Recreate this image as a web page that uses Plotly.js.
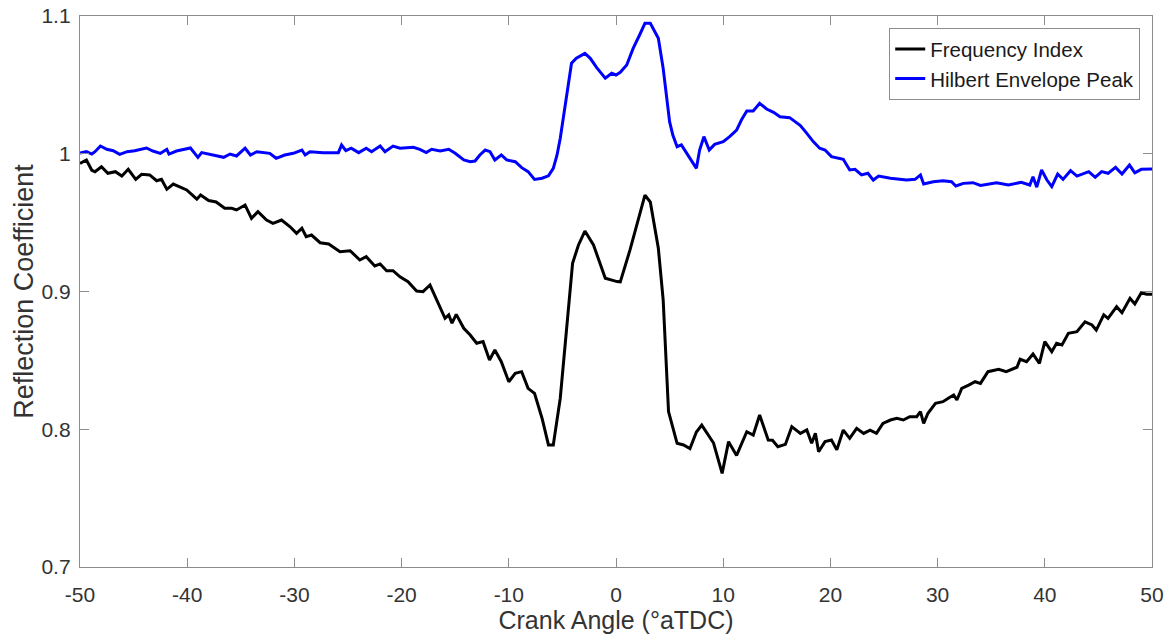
<!DOCTYPE html>
<html>
<head>
<meta charset="utf-8">
<script src="https://cdn.plot.ly/plotly-3.0.1.min.js"></script>
<style>html,body{margin:0;padding:0;background:#fff;}#chart{width:1173px;height:637px;}</style>
</head>
<body>
<div id="chart"></div>
<script>
// Frequency Index series (crank angle, reflection coefficient)
var freqAngle = [-50,-49.4,-48.9,-48.6,-48,-47.4,-46.7,-46.1,-45.5,-44.8,-44.25,-43.5,-42.85,-42.4,-41.9,-41.3,-40.7,-40.05,-39.1,-38.75,-38,-37.3,-36.5,-35.85,-35.4,-34.6,-34,-33.4,-32.6,-32,-31.2,-30.4,-29.8,-29.3,-28.9,-28.4,-27.6,-26.8,-25.75,-24.8,-23.9,-23.3,-22.5,-22,-21.4,-20.8,-20.15,-19.4,-18.6,-18,-17.35,-16.7,-16.4,-15.95,-15.6,-15.3,-14.9,-14.2,-13.6,-13,-12.4,-11.8,-11.3,-10.7,-10,-9.4,-8.8,-8.2,-7.6,-6.9,-6.3,-5.85,-5.2,-4.6,-4.05,-3.5,-2.9,-2.1,-1,0.1,0.4,1.3,2.1,2.7,3.2,3.95,4.4,4.9,5.7,6.3,6.9,7.5,8,9.1,9.9,10.5,11.25,12.2,12.8,13.4,14.2,14.6,15.1,15.8,16.4,17.2,17.8,18.25,18.6,18.9,19.5,20.1,20.6,21.2,21.8,22.45,23.1,23.7,24.3,24.9,25.6,26.2,26.8,27.4,28.05,28.4,28.7,29.1,29.8,30.5,31,31.5,31.8,32.25,32.9,33.5,34,34.7,35.7,36.4,37.4,37.7,38.3,38.9,39.5,40,40.65,41.1,41.6,42.2,43,43.75,44.4,44.8,45.5,45.9,46.7,47.2,47.95,48.4,49,49.5,50];
var freqRC = [0.993,0.9955,0.988,0.987,0.9906,0.9858,0.987,0.9838,0.9887,0.9814,0.9851,0.9846,0.9804,0.9814,0.9742,0.978,0.976,0.9737,0.967,0.970,0.966,0.965,0.9604,0.9604,0.9592,0.9628,0.9531,0.958,0.9519,0.9495,0.9519,0.947,0.9422,0.9459,0.9398,0.941,0.9354,0.9345,0.9289,0.9296,0.9229,0.9253,0.9185,0.92,0.9151,0.9151,0.9107,0.9071,0.9004,0.8999,0.9047,0.8938,0.889,0.8805,0.883,0.877,0.8834,0.8733,0.8684,0.8624,0.8636,0.8503,0.8575,0.849,0.8345,0.8406,0.8418,0.8297,0.826,0.808,0.7886,0.7886,0.8225,0.8708,0.9205,0.9338,0.9439,0.9338,0.9096,0.9072,0.907,0.930,0.952,0.970,0.965,0.9314,0.894,0.8128,0.7898,0.7886,0.786,0.798,0.803,0.790,0.768,0.791,0.781,0.7982,0.7958,0.8103,0.7922,0.792,0.7873,0.789,0.8019,0.797,0.7995,0.7898,0.797,0.7837,0.791,0.7922,0.785,0.7994,0.7934,0.8007,0.797,0.7994,0.797,0.8043,0.8067,0.808,0.8067,0.8091,0.8091,0.8128,0.8043,0.8116,0.8188,0.820,0.8225,0.8249,0.8212,0.8297,0.8321,0.8345,0.8333,0.8418,0.8435,0.8418,0.845,0.8508,0.849,0.8546,0.8479,0.8636,0.8563,0.8624,0.8612,0.8697,0.8708,0.878,0.8757,0.872,0.883,0.8805,0.889,0.8846,0.895,0.891,0.8991,0.898,0.898];

// Hilbert Envelope Peak series
var hilbAngle = [-50,-49.4,-48.9,-48.6,-48.1,-47.5,-46.9,-46.3,-45.6,-44.9,-43.8,-43.2,-42.5,-41.9,-41.7,-41,-39.7,-39,-38.65,-37.6,-36.6,-36,-35.4,-34.6,-34.1,-33.5,-32.3,-31.7,-30.9,-30.1,-29.3,-29,-28.55,-27.3,-25.9,-25.6,-25.2,-24.7,-24,-23.3,-22.8,-22,-21.55,-20.8,-20.15,-18.9,-18.3,-17.7,-17.2,-16.4,-15.6,-15,-14.2,-13.6,-13.15,-12.7,-12.2,-11.75,-11.3,-10.7,-10.2,-9.4,-8.8,-8.2,-7.6,-6.9,-6.3,-5.85,-5.5,-5.2,-4.8,-4.45,-4.15,-3.7,-3.2,-2.9,-2.4,-1.8,-1,-0.4,0,0.4,1,1.6,2.2,2.7,3.2,3.95,4.4,4.7,5,5.3,5.7,6.1,6.7,7.5,7.8,8.2,8.7,9.2,10,10.6,11.25,11.7,12.2,12.8,13.4,14.05,14.7,15.3,16.2,17.2,17.8,18.4,19,19.5,20.1,21.2,21.8,22.3,22.9,23.5,24,24.5,25.6,27.1,27.9,28.4,28.7,29.6,30.5,31.3,31.7,32.4,33.3,34,35.5,36.6,37.8,38.6,38.9,39.25,39.7,40.2,40.65,41.2,41.7,42.4,43,44.1,44.7,45.3,45.9,46.6,47.2,47.9,48.4,49,50];
var hilbRC = [1.0005,1.0015,0.9998,1.0015,1.0056,1.0032,1.0022,0.9996,1.0015,1.0022,1.0042,1.002,1.0003,1.0032,0.9998,1.002,1.0042,0.9974,1.0008,0.9991,0.9974,0.9998,0.9984,1.004,0.9991,1.0015,1.0003,0.9967,0.9991,1.0003,1.0027,0.9991,1.0015,1.0008,1.0008,1.0063,1.0022,1.004,1.0008,1.004,1.0015,1.0056,1.0015,1.0056,1.004,1.0047,1.0032,1.0008,1.0032,1.002,1.0032,1.0003,0.9955,0.9942,0.9947,0.9991,1.0027,1.0015,0.9955,0.9991,0.9955,0.9942,0.9899,0.987,0.9814,0.9822,0.984,0.9894,0.9991,1.0112,1.0318,1.0499,1.0657,1.0693,1.0717,1.0729,1.0693,1.0625,1.0548,1.0584,1.0572,1.0591,1.0644,1.0765,1.0862,1.0947,1.0947,1.0838,1.062,1.0427,1.0233,1.0136,1.0051,1.0064,0.9991,0.9894,1.0027,1.0124,1.0027,1.0068,1.0088,1.0124,1.0172,1.0245,1.031,1.031,1.0366,1.0325,1.0301,1.0269,1.0262,1.0205,1.0148,1.0088,1.004,1.0027,0.9979,0.996,0.9882,0.9887,0.9846,0.9858,0.9809,0.9838,0.9822,0.9809,0.9814,0.9846,0.978,0.9797,0.9804,0.9797,0.9766,0.9785,0.979,0.977,0.979,0.9773,0.9793,0.9773,0.9833,0.9757,0.9882,0.9809,0.9761,0.9853,0.9814,0.9877,0.9838,0.987,0.9829,0.987,0.9858,0.9901,0.9853,0.9918,0.9862,0.9887,0.989];

var xTicks = [-50,-40,-30,-20,-10,0,10,20,30,40,50];
var yTicks = [0.7,0.8,0.9,1,1.1];
var yTickText = ["0.7","0.8","0.9","1","1.1"];

var FONT = 'Liberation Sans, Arial, sans-serif';

var traces = [
  {x: freqAngle, y: freqRC, type: 'scatter', mode: 'lines', name: 'Frequency Index',
   line: {color: '#000000', width: 3}},
  {x: hilbAngle, y: hilbRC, type: 'scatter', mode: 'lines', name: 'Hilbert Envelope Peak',
   line: {color: '#0000ff', width: 3}}
];

var axisCommon = {
  showline: true, linecolor: '#8c8c8c', linewidth: 1.2, mirror: 'ticks',
  ticks: 'inside', ticklen: 9, tickwidth: 1, tickcolor: '#8c8c8c',
  showgrid: false, zeroline: false,
  tickfont: {family: FONT, size: 21, color: '#333333'}
};

var layout = {
  width: 1173, height: 637,
  margin: {l: 80, r: 21, t: 16, b: 70},
  paper_bgcolor: '#ffffff', plot_bgcolor: '#ffffff',
  showlegend: true,
  legend: {x: 0.989, y: 0.978, xanchor: 'right', yanchor: 'top',
    bgcolor: '#ffffff', bordercolor: '#8c8c8c', borderwidth: 1,
    font: {family: FONT, size: 20.5, color: '#1a1a1a'},
    tracegroupgap: 0, itemwidth: 30},
  xaxis: Object.assign({}, axisCommon, {
    range: [-50, 50], tickvals: xTicks, ticktext: xTicks.map(String),
    ticklabelstandoff: 9,
    title: {text: 'Crank Angle (°aTDC)', standoff: 2,
      font: {family: FONT, size: 25, color: '#333333'}}
  }),
  yaxis: Object.assign({}, axisCommon, {
    range: [0.7, 1.1], tickvals: yTicks, ticktext: yTickText,
    ticklabelstandoff: 4,
    title: {text: 'Reflection Coefficient', standoff: 0,
      font: {family: FONT, size: 27, color: '#333333'}}
  })
};

Plotly.newPlot('chart', traces, layout, {displayModeBar: false, staticPlot: true});
</script>
</body>
</html>
